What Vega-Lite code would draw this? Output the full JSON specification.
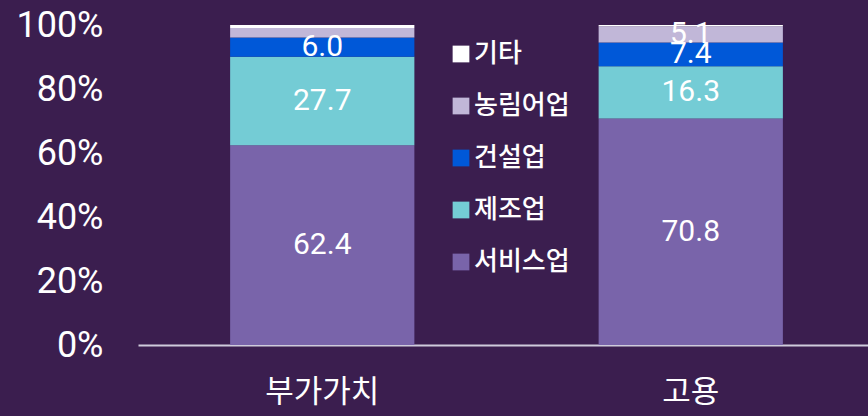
{
  "$schema": "https://vega.github.io/schema/vega-lite/v6.json",
  "autosize": {"type": "none"},
  "width": 737,
  "height": 320,
  "padding": {"left": 138, "top": 25, "right": 0, "bottom": 71},
  "background": "#3b1e4f",
  "config": {"view": {"stroke": null}},
  "data": {
    "values": [
      {"cat": "부가가치", "sector": "서비스업", "value": 62.4},
      {"cat": "부가가치", "sector": "제조업", "value": 27.7},
      {"cat": "부가가치", "sector": "건설업", "value": 6.0},
      {"cat": "부가가치", "sector": "농림어업", "value": 3.0},
      {"cat": "부가가치", "sector": "기타", "value": 0.9},
      {"cat": "고용", "sector": "서비스업", "value": 70.8},
      {"cat": "고용", "sector": "제조업", "value": 16.3},
      {"cat": "고용", "sector": "건설업", "value": 7.4},
      {"cat": "고용", "sector": "농림어업", "value": 5.1},
      {"cat": "고용", "sector": "기타", "value": 0.4}
    ]
  },
  "transform": [
    {"calculate": "indexof(['서비스업','제조업','건설업','농림어업','기타'], datum.sector)", "as": "o"}
  ],
  "encoding": {
    "x": {
      "field": "cat", "type": "nominal", "sort": ["부가가치", "고용"],
      "scale": {"paddingInner": 0.5, "paddingOuter": 0.25},
      "axis": {
        "title": null, "labelAngle": 0, "ticks": false,
        "domainColor": "#cfcbdc", "domainWidth": 2,
        "labelFont": "Noto Sans CJK KR", "labelFontSize": 31, "labelColor": "#ffffff",
        "labelPadding": 32
      }
    },
    "y": {
      "field": "value", "type": "quantitative", "stack": "zero",
      "scale": {"domain": [0, 100], "nice": false},
      "axis": {
        "title": null, "grid": false, "domain": false, "ticks": false,
        "values": [0, 20, 40, 60, 80, 100],
        "labelExpr": "datum.value + '%'",
        "labelFont": "Roboto", "labelFontSize": 36, "labelColor": "#ffffff",
        "labelPadding": 35
      }
    },
    "order": {"field": "o", "type": "quantitative"}
  },
  "layer": [
    {
      "mark": {"type": "bar"},
      "encoding": {
        "color": {
          "field": "sector", "type": "nominal",
          "scale": {
            "domain": ["기타", "농림어업", "건설업", "제조업", "서비스업"],
            "range": ["#ffffff", "#c1b7d8", "#0058d8", "#74ccd5", "#7964aa"]
          },
          "legend": {
            "title": null, "orient": "none", "legendX": 310, "legendY": 16,
            "symbolType": "square", "symbolSize": 280, "symbolStrokeWidth": 0,
            "labelFont": "Noto Sans CJK KR", "labelFontSize": 26, "labelFontWeight": 500,
            "labelColor": "#ffffff",
            "labelOffset": 0, "rowPadding": 26, "padding": 0
          }
        }
      }
    },
    {
      "mark": {"type": "text", "font": "Roboto", "fontSize": 30, "color": "#ffffff", "baseline": "middle"},
      "encoding": {
        "y": {"field": "value", "type": "quantitative", "stack": "zero", "bandPosition": 0.5},
        "text": {
          "condition": {"test": "datum.value < 5", "value": ""},
          "field": "value", "type": "quantitative", "format": ".1f"
        }
      }
    }
  ]
}
